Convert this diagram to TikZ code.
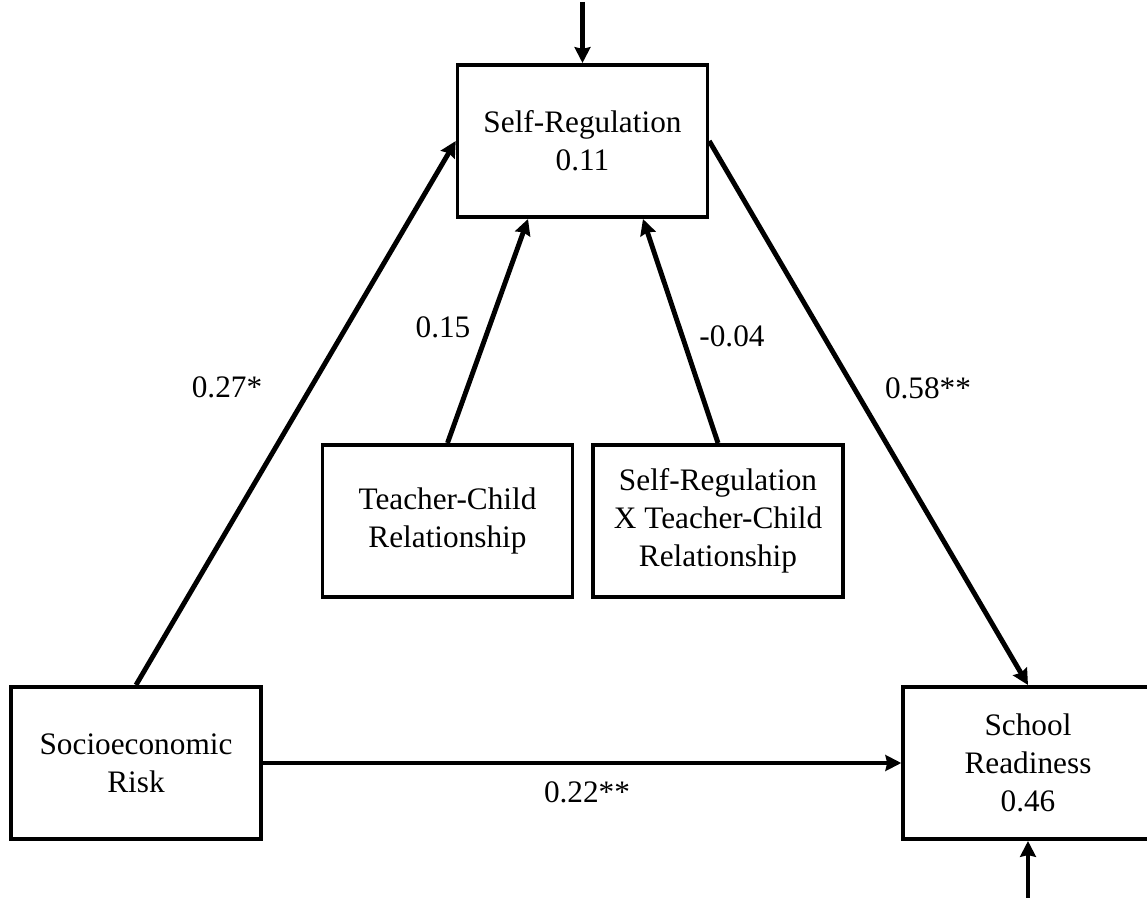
\documentclass[tikz,border=0pt]{standalone}
\usepackage{fontspec}
\setmainfont{Liberation Serif}
\usetikzlibrary{arrows.meta}

\begin{document}
\begin{tikzpicture}[x=0.02cm,y=-0.02cm,
    box/.style={draw,rectangle,line width=2pt,minimum width=5cm,minimum
    height=3.05cm,align=center,inner sep=0pt,font=\fontsize{17.8}{21.8}\selectfont},
    link/.style={line width=2.8pt,->,>={Stealth[length=9pt,width=9pt,inset=1pt]}},
    coef/.style={font=\fontsize{17.8}{21.8}\selectfont}]
        \useasboundingbox (0,0) rectangle (1147,898);
        % boxes
        \node[box,name=sr] at (582.5,141) {Self-Regulation\\0.11};
        \node[box,name=tcr] at (447.5,521) {Teacher-Child\\Relationship};
        \node[box,name=srxtcr] at (718,521) {Self-Regulation\\X Teacher-Child\\Relationship};
        \node[box,name=ser] at (136,763) {Socioeconomic\\Risk};
        \node[box,name=schr] at (1028,763) {School\\Readiness\\0.46};
        % disturbances
        \coordinate (srin) at (582.5,2);
        \coordinate (schrin) at (1028,898);
        \draw [link] (srin) -- (sr.north);
        \draw [link] (schrin) -- (schr.south);
        % paths
        \draw [link] (ser.north) -- (sr.west);
        \draw [link] (sr.east) -- (schr.north);
        \draw [link] (tcr.north) -- ([xshift=-1.09cm]sr.south);
        \draw [link] (srxtcr.north) -- ([xshift=1.21cm]sr.south);
        \draw [link] (ser.east) -- (schr.west);
        % coefficients
        \node[coef,name=c1] at (227,387) {0.27*};
        \node[coef,name=c2] at (443,327) {0.15};
        \node[coef,name=c3] at (732,336) {-0.04};
        \node[coef,name=c4] at (928,388) {0.58**};
        \node[coef,name=c5] at (587,792) {0.22**};
\end{tikzpicture}
\end{document}
